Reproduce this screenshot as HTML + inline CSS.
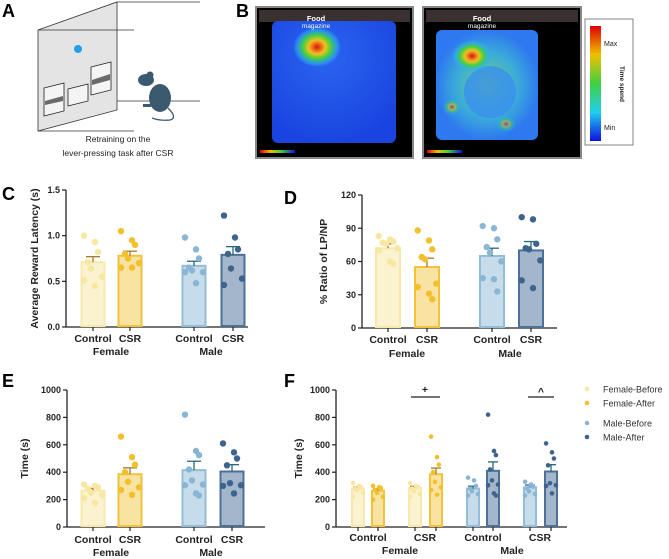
<!DOCTYPE html>
<html><head><meta charset="utf-8">
<style>
body{margin:0;background:#fff;}
svg{display:block;font-family:"Liberation Sans",sans-serif;}
.lbl{font-weight:bold;font-size:18px;}
.tk{font-weight:bold;font-size:9px;fill:#222;}
.ax{font-weight:bold;font-size:10.5px;fill:#222;}
</style></head>
<body>
<svg id="fig" width="669" height="559" viewBox="0 0 669 559">
<defs>
<radialGradient id="hm1" cx="0.45" cy="0.3" r="0.7"><stop offset="0" stop-color="#2a64f0"/><stop offset="1" stop-color="#1a44e0"/></radialGradient>
<radialGradient id="hot" cx="0.5" cy="0.5" r="0.5"><stop offset="0" stop-color="#e01010"/><stop offset="0.35" stop-color="#f2c020"/><stop offset="0.6" stop-color="#40d040"/><stop offset="0.85" stop-color="#30b0f0" stop-opacity="0.6"/><stop offset="1" stop-color="#30b0f0" stop-opacity="0"/></radialGradient>
<radialGradient id="warm" cx="0.5" cy="0.5" r="0.5"><stop offset="0" stop-color="#7ad860"/><stop offset="0.6" stop-color="#40c0d0" stop-opacity="0.7"/><stop offset="1" stop-color="#40c0d0" stop-opacity="0"/></radialGradient>
<linearGradient id="cbar" x1="0" y1="0" x2="0" y2="1"><stop offset="0" stop-color="#e00000"/><stop offset="0.25" stop-color="#f0c000"/><stop offset="0.5" stop-color="#40d040"/><stop offset="0.75" stop-color="#20d0f0"/><stop offset="1" stop-color="#1010e0"/></linearGradient>
<linearGradient id="hbar" x1="0" y1="0" x2="1" y2="0"><stop offset="0" stop-color="#e00000"/><stop offset="0.3" stop-color="#f0c000"/><stop offset="0.6" stop-color="#40d040"/><stop offset="1" stop-color="#1010e0"/></linearGradient>
</defs>

<!-- Panel A -->
<g>
<text class="lbl" x="2" y="17">A</text>
<polygon points="38,30 117,2 117,110 38,131" fill="#e4e4e4" stroke="#333" stroke-width="0.8"/>
<line x1="117" y1="2" x2="200" y2="2" stroke="#333" stroke-width="0.8"/>
<line x1="38" y1="30" x2="134" y2="30" stroke="#333" stroke-width="0.8"/>
<line x1="117" y1="101" x2="200" y2="101" stroke="#333" stroke-width="0.8"/>
<line x1="38" y1="131" x2="134" y2="131" stroke="#333" stroke-width="0.8"/>
<circle cx="78" cy="49" r="4" fill="#1ea0e6"/>
<polygon points="44,88 64,83 64,111 44,116" fill="#f4f4f4" stroke="#222" stroke-width="0.8"/>
<polygon points="45,101 63,96 63,101 45,105" fill="#6a6a6a"/>
<polygon points="68,89 88,84 88,101 68,106" fill="#f4f4f4" stroke="#222" stroke-width="0.8"/>
<polygon points="91,67 111,62 111,90 91,95" fill="#f4f4f4" stroke="#222" stroke-width="0.8"/>
<polygon points="92,80 110,74 110,80 92,85" fill="#6a6a6a"/>
<g fill="#3b5a70">
<ellipse cx="160" cy="98" rx="11" ry="14"/>
<ellipse cx="146" cy="80" rx="8" ry="6"/>
<circle cx="150" cy="75" r="3.5"/>
<rect x="143" y="104" width="8" height="3"/>
<path d="M168,108 Q178,118 170,120 Q160,121 152,118" stroke="#3b5a70" stroke-width="1.3" fill="none"/>
</g>
<text x="118" y="142" text-anchor="middle" font-size="8.5" fill="#222">Retraining on the</text>
<text x="118" y="156" text-anchor="middle" font-size="8.5" fill="#222">lever-pressing task after CSR</text>
</g>

<!-- Panel B -->
<g>
<text class="lbl" x="236" y="17">B</text>
<g>
<rect x="256" y="7" width="157" height="151" fill="#000" stroke="#888" stroke-width="2"/>
<rect x="259" y="10" width="151" height="12" fill="#3a3030"/>
<rect x="272" y="21" width="124" height="122" rx="6" fill="url(#hm1)"/>
<ellipse cx="317" cy="47" rx="24" ry="20" fill="url(#hot)"/>
<rect x="260" y="150" width="35" height="3" fill="url(#hbar)"/>
<text x="316" y="21" text-anchor="middle" font-size="7.5" fill="#fff" font-weight="bold">Food</text>
<text x="316" y="28" text-anchor="middle" font-size="6.5" fill="#fff">magazine</text>
</g>
<g>
<rect x="423" y="7" width="158" height="151" fill="#000" stroke="#888" stroke-width="2"/>
<rect x="426" y="10" width="152" height="12" fill="#3a3030"/>
<rect x="436" y="30" width="102" height="110" rx="6" fill="#2e78f0"/>
<ellipse cx="487" cy="85" rx="52" ry="55" fill="url(#warm)"/>
<ellipse cx="490" cy="92" rx="26" ry="26" fill="#3a8ef0" opacity="0.8"/>
<ellipse cx="472" cy="56" rx="20" ry="16" fill="url(#hot)"/>
<ellipse cx="452" cy="107" rx="9" ry="8" fill="url(#hot)" opacity="0.6"/>
<ellipse cx="506" cy="124" rx="10" ry="8" fill="url(#hot)" opacity="0.5"/>
<rect x="427" y="150" width="35" height="3" fill="url(#hbar)"/>
<text x="482" y="21" text-anchor="middle" font-size="7.5" fill="#fff" font-weight="bold">Food</text>
<text x="482" y="28" text-anchor="middle" font-size="6.5" fill="#fff">magazine</text>
</g>
<g>
<rect x="585" y="19" width="48" height="126" fill="#fff" stroke="#666" stroke-width="0.8"/>
<rect x="590" y="26" width="11" height="115" fill="url(#cbar)"/>
<text x="604" y="46" font-size="7" fill="#222">Max</text>
<text x="604" y="130" font-size="7" fill="#222">Min</text>
<text x="0" y="0" font-size="6.5" font-weight="bold" fill="#222" text-anchor="middle" transform="translate(620,84) rotate(90)">Time spend</text>
</g>
</g>

<g id="charts"></g>
</svg>
<script>
// ---- Panel C data ----
const cCats = ["Control","CSR","Control","CSR"];
const cMeans = [0.71,0.78,0.67,0.79];
const cSem = [0.06,0.05,0.05,0.09];
const cPts = [[1.0,0.93,0.82,0.71,0.64,0.55,0.51,0.45],[1.05,0.95,0.90,0.80,0.75,0.70,0.65,0.65],[0.98,0.85,0.75,0.65,0.62,0.60,0.60,0.48],[1.22,0.98,0.85,0.80,0.64,0.53,0.46]];
const cTicks = [0,0.5,1.0,1.5];
const cTickLabels = ["0.0","0.5","1.0","1.5"];
// ---- Panel D data ----
const dMeans = [72,55,65,70];
const dSem = [4,8,7,8];
const dPts = [[83,80,78,77,76,72,70,60,58],[88,79,71,64,62,40,37,31,26],[92,90,80,73,68,60,45,44,33],[100,98,76,72,71,61,43,36]];
const dTicks = [0,30,60,90,120];
// ---- Panel E data ----
const eMeans = [265,385,415,405];
const eSem = [17,47,65,50];
const ePts = [[310,300,290,280,250,230,210,175],[660,510,455,400,330,290,270,235],[820,555,525,420,340,310,305,245,230],[610,545,500,450,320,305,300,245]];
const eTicks = [0,200,400,600,800,1000];
// ---- Panel F data ----
const fCats = ["Control","CSR","Control","CSR"];
const fMeans = [280,265,285,385,280,410,290,405];
const fSem = [12,15,12,45,18,65,16,50];
const fPts = [[320,300,290,280,270,250,220],[300,290,285,270,250,220,200],[320,300,290,280,260,240,220],[660,510,455,400,330,290,270,235],[360,340,300,280,260,240,230],[820,555,525,420,340,310,305,245,230],[330,310,295,280,260,240,230],[610,545,500,450,320,305,300,245]];
const legendLabels = ["Female-Before","Female-After","Male-Before","Male-After"];

const NS="http://www.w3.org/2000/svg";
const root=document.getElementById('charts');
const fills=["#fbf3cf","#f9e3a3","#c7dcea","#a3b6cb"];
const strokes=["#f7e9ad","#f2c23a","#93bcd9","#4c7097"];
const dots=["#f8e7a0","#f2c02c","#8ab6d6","#3e648d"];
const errc=["#a47a2c","#a47a2c","#27677a","#27677a"];
function mk(tag,attrs,parent){const e=document.createElementNS(NS,tag);for(const k in attrs)e.setAttribute(k,attrs[k]);(parent||root).appendChild(e);return e;}
function txt(s,attrs,parent){const e=mk('text',attrs,parent);e.textContent=s;return e;}

function chart(o){
  const g=mk('g',{});
  
  
  const y=v=>o.y0-(v-o.ticks[0])/(o.ticks[o.ticks.length-1]-o.ticks[0])*(o.y0-o.y1);
  const ya=mk('line',{x1:o.ax,y1:o.y1,x2:o.ax,y2:o.y0,stroke:'#222','stroke-width':1.3},g);
  
  
  const xa=mk('line',{x1:o.ax,y1:o.y0,x2:o.axEnd,y2:o.y0,stroke:'#222','stroke-width':1.3},g);
  
  
  o.ticks.forEach((t,i)=>{
    mk('line',{x1:o.ax-4,y1:y(t),x2:o.ax,y2:y(t),stroke:'#222','stroke-width':1.2},g);
    const tl=txt(o.tickLabels?o.tickLabels[i]:String(t),{x:o.ax-6,y:y(t)+3,'text-anchor':'end',class:'tk'},g);
    
    
  });
  const yt=txt(o.ytitle,{class:'ax',transform:`translate(${o.ytx},${(o.y0+o.y1)/2}) rotate(-90)`,'text-anchor':'middle'},g);
  
  
  o.means.forEach((m,i)=>{
    const cx=o.xs[i], c=o.colorIdx[i], w=o.bw;
    const b=mk('rect',{x:cx-w/2+1,y:y(m),width:w-2,height:o.y0-y(m)-1,fill:fills[c],stroke:strokes[c],'stroke-width':2},g);
    
    
    mk('line',{x1:cx,y1:y(m),x2:cx,y2:y(m+o.sem[i]),stroke:errc[c],'stroke-width':1.3},g);
    mk('line',{x1:cx-o.cap,y1:y(m+o.sem[i]),x2:cx+o.cap,y2:y(m+o.sem[i]),stroke:errc[c],'stroke-width':1.3},g);
    mk('line',{x1:cx,y1:o.y0,x2:cx,y2:o.y0+4,stroke:'#222','stroke-width':1.2},g);
    const pts=o.pts[i];
    pts.forEach((p,j)=>{
      const off=((j%3)-1)*o.bw*0.28+(j%2?2:-2)*(o.bw>20?1:0.5);
      const d=mk('circle',{cx:cx+off,cy:y(p),r:o.r,fill:dots[c]},g);
      
      
    });
  });
  return g;
}

const cd4=[0,1,2,3];
const names4=["female-control","female-csr","male-control","male-csr"];
function groupLabels(g,xs,yy,cats,sexX,sexY){
  cats.forEach((c,i)=>{const t=txt(c,{x:xs[i],y:yy,'text-anchor':'middle',class:'ax'},g);});
  const f=txt('Female',{x:sexX[0],y:sexY,'text-anchor':'middle',class:'ax','font-size':11},g);
  
  
  const m=txt('Male',{x:sexX[1],y:sexY,'text-anchor':'middle',class:'ax','font-size':11},g);
  
  
}

// C
let xs=[93,130,194,233];
let g=chart({name:'panel-c-chart',ax:66,axEnd:248,y0:327,y1:190,ticks:cTicks,tickLabels:cTickLabels,ytitle:'Average Reward Latency (s)',ytx:38,means:cMeans,sem:cSem,pts:cPts,xs:xs,colorIdx:cd4,barNames:names4,bw:25,cap:7,r:3.2});
groupLabels(g,xs,342,cCats,[111,211],355);
txt('C',{x:2,y:200,class:'lbl'},g);
// D
xs=[388,427,492,531];
g=chart({name:'panel-d-chart',ax:362,axEnd:557,y0:328,y1:195,ticks:dTicks,ytitle:'% Ratio of LP/NP',ytx:327,means:dMeans,sem:dSem,pts:dPts,xs:xs,colorIdx:cd4,barNames:names4,bw:26,cap:7,r:3.2});
groupLabels(g,xs,343,cCats,[407,510],357);
txt('D',{x:284,y:204,class:'lbl'},g);
// E
xs=[93,130,194,232];
g=chart({name:'panel-e-chart',ax:67,axEnd:265,y0:527,y1:390,ticks:eTicks,ytitle:'Time (s)',ytx:28,means:eMeans,sem:eSem,pts:ePts,xs:xs,colorIdx:cd4,barNames:names4,bw:25,cap:7,r:3.2});
groupLabels(g,xs,543,cCats,[111,211],556);
txt('E',{x:2,y:387,class:'lbl'},g);
// F
xs=[358,378,415,436,473,493,530,551];
g=chart({name:'panel-f-chart',ax:336,axEnd:567,y0:527,y1:390,ticks:eTicks,ytitle:'Time (s)',ytx:302,means:fMeans,sem:fSem,pts:fPts,xs:xs,colorIdx:[0,1,0,1,2,3,2,3],barNames:["fc-before","fc-after","fcsr-before","fcsr-after","mc-before","mc-after","mcsr-before","mcsr-after"],bw:14,cap:5,r:2.3});
groupLabels(g,[368,425,483,540],541,fCats,[400,512],554);
txt('F',{x:284,y:387,class:'lbl'},g);
let s=mk('line',{x1:411,y1:397,x2:440,y2:397,stroke:'#222','stroke-width':1.3},g);


txt('+',{x:425,y:393,'text-anchor':'middle',class:'ax'},g);
s=mk('line',{x1:528,y1:397,x2:554,y2:397,stroke:'#222','stroke-width':1.3},g);


txt('^',{x:541,y:395,'text-anchor':'middle',class:'ax'},g);
// legend
const lg=mk('g',{});


const ly=[389,403,423,437];
legendLabels.forEach((l,i)=>{
  const e=mk('g',{},lg);
  
  
  mk('circle',{cx:587,cy:ly[i],r:2.3,fill:dots[i]},e);
  txt(l,{x:603,y:ly[i]+3.5,'font-size':9,fill:'#333'},e);
});
</script>
</body></html>
